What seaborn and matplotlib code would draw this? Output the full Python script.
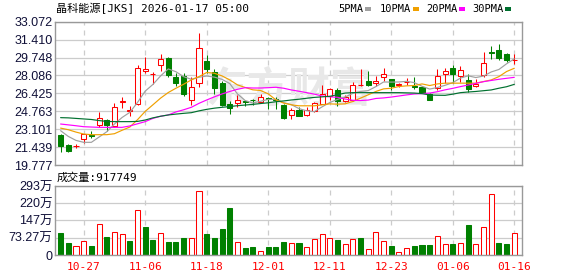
import numpy as np
import pandas as pd
import matplotlib
matplotlib.use("Agg")
import matplotlib.pyplot as plt
from matplotlib.patches import Rectangle
import seaborn as sns

# ---------------- data ----------------
dates = ["10-22", "10-23", "10-24", "10-27", "10-28", "10-29", "10-30", "10-31",
         "11-03", "11-04", "11-05", "11-06", "11-07", "11-10", "11-11", "11-12",
         "11-13", "11-14", "11-17", "11-18", "11-19", "11-20", "11-21", "11-24",
         "11-25", "11-26", "11-28", "12-01", "12-02", "12-03", "12-04", "12-05",
         "12-08", "12-09", "12-10", "12-11", "12-12", "12-15", "12-16", "12-17",
         "12-18", "12-19", "12-22", "12-23", "12-24", "12-26", "12-29", "12-30",
         "12-31", "01-02", "01-05", "01-06", "01-07", "01-08", "01-09", "01-12",
         "01-13", "01-14", "01-15", "01-16"]

opens = [22.59, 21.63, 21.53, 22.19, 22.56, 23.48, 23.97, 23.42, 25.65, 24.82,
         25.42, 28.54, 28.20, 29.03, 29.71, 27.92, 28.05, 25.79, 27.40, 29.43,
         28.38, 27.37, 25.42, 25.52, 25.70, 25.85, 25.58, 25.97, 25.90, 25.36,
         24.37, 24.84, 24.37, 24.81, 25.42, 26.19, 26.75, 25.76, 25.82, 27.16,
         27.58, 27.43, 27.92, 27.74, 27.20, 27.46, 27.15, 27.00, 26.32, 26.90,
         28.20, 28.78, 28.08, 27.67, 27.09, 28.11, 30.22, 30.45, 30.08, 29.50]
highs = [22.65, 21.75, 21.72, 22.65, 22.93, 24.71, 24.00, 25.52, 26.07, 25.27,
         29.06, 29.80, 28.38, 30.11, 29.83, 28.29, 28.35, 27.92, 31.99, 30.02,
         28.66, 27.61, 25.70, 26.26, 25.82, 25.89, 26.38, 26.13, 26.06, 25.42,
         25.05, 25.14, 25.14, 25.64, 27.18, 26.93, 26.90, 26.26, 27.49, 28.66,
         28.51, 28.05, 28.75, 27.74, 27.43, 27.86, 27.92, 27.12, 26.44, 28.66,
         28.75, 29.03, 28.97, 28.23, 27.74, 30.24, 30.82, 31.01, 30.20, 30.11]
lows = [20.95, 20.95, 21.32, 21.85, 22.31, 23.33, 22.89, 23.30, 25.05, 24.34,
        25.36, 28.35, 27.30, 28.54, 27.92, 27.12, 26.22, 25.36, 26.97, 28.29,
        26.41, 25.27, 24.53, 25.14, 25.27, 25.36, 25.52, 24.96, 24.95, 24.07,
        24.07, 24.28, 24.28, 24.71, 25.42, 25.82, 25.27, 25.64, 25.76, 27.12,
        27.12, 27.09, 27.55, 26.69, 27.03, 27.18, 26.87, 26.44, 25.82, 26.69,
        27.37, 27.43, 27.49, 26.56, 27.06, 27.92, 29.59, 29.56, 29.34, 29.12]
closes = [21.51, 21.04, 21.56, 22.65, 22.50, 24.13, 23.45, 25.15, 25.70, 24.87,
          28.75, 28.69, 28.25, 29.65, 28.11, 27.43, 26.41, 27.06, 30.60, 28.66,
          26.93, 25.33, 25.11, 25.82, 25.60, 25.80, 26.13, 25.93, 25.85, 24.13,
          24.84, 24.28, 24.90, 25.52, 26.32, 26.81, 25.73, 26.07, 27.18, 27.20,
          27.24, 27.55, 28.23, 27.12, 27.28, 27.52, 26.97, 26.50, 25.82, 28.05,
          28.51, 28.23, 28.60, 26.84, 27.27, 29.22, 30.14, 29.74, 29.49, 29.56]

# volume in 万 shares
volumes = [94.8, 51.0, 36.8, 59.4, 38.2, 131.6, 76.4, 97.6, 89.0, 60.8,
           189.6, 118.9, 65.0, 93.4, 56.6, 56.6, 73.6, 70.8, 270.0, 90.6,
           73.6, 111.8, 199.5, 55.2, 31.1, 34.0, 17.0, 35.4, 35.4, 56.6,
           51.0, 52.4, 34.0, 66.5, 89.0, 70.8, 65.0, 46.7, 66.5, 72.2,
           25.5, 97.6, 59.4, 38.2, 11.3, 28.3, 38.2, 42.5, 42.5, 79.2,
           46.7, 46.7, 51.0, 127.4, 46.7, 118.9, 257.5, 51.0, 46.7, 91.77]
vol_up = [0, 0, 1, 1, 0, 1, 0, 1, 1, 0, 1, 0, 0, 1, 0, 0, 0, 1, 1, 0,
          0, 0, 0, 1, 0, 0, 1, 0, 0, 0, 1, 0, 1, 1, 1, 1, 0, 1, 1, 0,
          1, 1, 1, 0, 1, 1, 0, 0, 0, 1, 1, 0, 1, 0, 1, 1, 1, 0, 0, 1]

ma5 = [22.96, 22.43, 22.06, 21.88, 21.88, 22.37, 22.86, 23.58, 24.19, 24.66,
       25.58, 26.63, 27.25, 28.04, 28.69, 28.43, 27.97, 27.73, 27.92, 28.03,
       27.93, 27.72, 27.33, 26.37, 25.76, 25.53, 25.69, 25.86, 25.86, 25.57,
       25.38, 25.01, 24.80, 24.73, 25.17, 25.57, 25.86, 26.09, 26.42, 26.60,
       26.68, 27.05, 27.48, 27.47, 27.48, 27.54, 27.42, 27.08, 26.82, 26.97,
       27.17, 27.42, 27.84, 28.05, 27.89, 28.03, 28.41, 28.64, 29.17, 29.63]
ma10 = [23.20, 23.05, 22.83, 22.65, 22.59, 22.59, 22.59, 22.68, 23.00, 23.30,
        23.98, 24.75, 25.36, 25.98, 26.50, 26.90, 27.27, 27.67, 27.98, 28.36,
        28.29, 28.04, 27.67, 27.21, 26.97, 26.75, 26.69, 26.38, 25.82, 25.52,
        25.36, 25.27, 25.27, 25.27, 25.36, 25.45, 25.42, 25.45, 25.67, 25.98,
        26.29, 26.60, 26.84, 26.90, 27.06, 27.12, 27.15, 27.30, 27.15, 27.30,
        27.37, 27.37, 27.37, 27.37, 27.37, 27.52, 27.67, 27.98, 28.45, 28.75]
ma20 = [23.58, 23.50, 23.42, 23.33, 23.30, 23.27, 23.27, 23.27, 23.27, 23.40,
        23.60, 23.80, 24.10, 24.30, 24.42, 24.70, 24.90, 25.13, 25.50, 25.81,
        26.10, 26.37, 26.60, 26.80, 26.95, 26.92, 26.92, 26.95, 26.99, 26.90,
        26.74, 26.62, 26.49, 26.35, 26.18, 26.10, 26.06, 25.90, 25.78, 25.76,
        25.80, 25.95, 26.00, 26.08, 26.18, 26.28, 26.37, 26.40, 26.45, 26.58,
        26.75, 26.89, 27.05, 27.20, 27.35, 27.51, 27.62, 27.73, 27.82, 27.91]
ma30 = [24.17, 24.15, 24.10, 24.05, 24.00, 23.90, 23.82, 23.80, 23.80, 23.80,
        23.82, 23.95, 24.15, 24.30, 24.42, 24.50, 24.57, 24.63, 24.80, 24.94,
        25.05, 25.13, 25.20, 25.28, 25.34, 25.40, 25.48, 25.55, 25.65, 25.72,
        25.81, 25.88, 25.97, 26.05, 26.10, 26.15, 26.30, 26.45, 26.49, 26.49,
        26.49, 26.49, 26.49, 26.49, 26.49, 26.47, 26.45, 26.40, 26.27, 26.25,
        26.24, 26.35, 26.49, 26.55, 26.60, 26.67, 26.74, 26.90, 27.04, 27.26]

ma_labels = ["5PMA", "10PMA", "20PMA", "30PMA"]
ma_colors = ["#a0a0a0", "#f0a000", "#ff00ff", "#00702f"]

price_ticks = [19.777, 21.439, 23.101, 24.763, 26.425, 28.086, 29.748, 31.410, 33.072]
price_labels = ["19.777", "21.439", "23.101", "24.763", "26.425", "28.086",
                "29.748", "31.410", "33.072"]
vol_ticks = [0, 73.27, 147, 220, 293]
vol_labels = ["0", "73.27万", "147万", "220万", "293万"]
date_ticks = ["10-27", "11-06", "11-18", "12-01", "12-11", "12-23", "01-06", "01-16"]

title_text = "晶科能源[JKS] 2026-01-17 05:00"
vol_title = "成交量:917749"
watermark = "东方财富"

# ---------------- style ----------------
sns.set_style("white")
plt.rcParams["font.family"] = ["DejaVu Sans Mono", "Noto Sans CJK SC"]

RED = "#ff0000"
GREEN = "#008000"
GRID = "#cccccc"
SPINE = "#999999"
LABEL = "#101038"

W, H = 578, 276
fig = plt.figure(figsize=(W / 100, H / 100), dpi=100)
fig.patch.set_facecolor("white")

L, R = 55.3, 522.3
ax = fig.add_axes([L / W, 1 - 165.0 / H, (R - L) / W, (165.0 - 21.7) / H])
axv = fig.add_axes([L / W, 1 - 255.0 / H, (R - L) / W, (255.0 - 186.0) / H])

x = np.arange(len(dates))
df = pd.DataFrame({"x": x, "open": opens, "high": highs, "low": lows,
                   "close": closes, "vol": volumes, "up": vol_up,
                   "ma5": ma5, "ma10": ma10, "ma20": ma20, "ma30": ma30})
tick_pos = [dates.index(d) for d in date_ticks]
xlim = (-0.69, len(dates) - 1 + 1.04)

bw = 0.66
lw = 0.75

# ---------------- candles ----------------
up = df["close"] >= df["open"]
upd = df[up]
dn = df[~up]
body_up = np.maximum(upd["close"] - upd["open"], 0.03)
ax.bar(upd["x"], body_up, bottom=upd["open"], width=bw, facecolor="white",
       edgecolor=RED, linewidth=lw, zorder=3)
ax.vlines(upd["x"], upd["open"] + body_up, upd["high"], color=RED, linewidth=lw, zorder=3)
ax.vlines(upd["x"], upd["low"], upd["open"], color=RED, linewidth=lw, zorder=3)
body_dn = np.maximum(dn["open"] - dn["close"], 0.03)
ax.vlines(dn["x"], dn["low"], dn["high"], color=GREEN, linewidth=lw, zorder=3)
ax.bar(dn["x"], body_dn, bottom=dn["close"], width=bw, facecolor=GREEN,
       edgecolor=GREEN, linewidth=lw, zorder=3)

# ---------------- moving averages ----------------
for col, c in zip(["ma5", "ma10", "ma20", "ma30"], ma_colors):
    sns.lineplot(data=df, x="x", y=col, ax=ax, color=c, linewidth=0.85, zorder=4)

ax.text(0.5, 0.53, watermark, transform=ax.transAxes, ha="center", va="center",
        fontsize=30, color="#e8e8e8", fontweight="bold", zorder=0.6,
        family=["Noto Sans CJK SC"])

ax.set_xlim(*xlim)
ax.set_ylim(price_ticks[0], price_ticks[-1])
ax.set_yticks(price_ticks)
ax.set_yticklabels(price_labels, family=["Liberation Sans", "Noto Sans CJK SC"],
                   fontsize=9, color=LABEL)
ax.set_xticks(tick_pos)
ax.set_xticklabels([])
ax.set_xlabel("")
ax.set_ylabel("")
ax.tick_params(axis="both", length=0, pad=2)
ax.grid(axis="y", color=GRID, linewidth=0.9, linestyle="-")
ax.grid(axis="x", color=GRID, linewidth=0.9, linestyle=(0, (4, 4)))
ax.set_axisbelow(True)
for s in ax.spines.values():
    s.set_color(SPINE)
    s.set_linewidth(1.0)
    s.set_zorder(5)

# ---------------- volume ----------------
vu = df[df["up"] == 1]
vd = df[df["up"] == 0]
axv.bar(vu["x"], vu["vol"], width=bw, facecolor="white", edgecolor=RED,
        linewidth=lw, zorder=3)
axv.bar(vd["x"], vd["vol"], width=bw, facecolor=GREEN, edgecolor=GREEN,
        linewidth=lw, zorder=3)
axv.set_xlim(*xlim)
axv.set_ylim(vol_ticks[0], vol_ticks[-1])
axv.set_yticks(vol_ticks)
axv.set_yticklabels(vol_labels, family=["Liberation Sans", "Noto Sans CJK SC"],
                    fontsize=9, color=LABEL)
axv.set_xticks(tick_pos)
axv.set_xticklabels(date_ticks, color=RED, fontsize=8,
                    family=["DejaVu Sans Mono"])
axv.tick_params(axis="y", length=0, pad=2)
axv.tick_params(axis="x", length=0, pad=5)
axv.grid(axis="y", color=GRID, linewidth=0.9, linestyle="-")
axv.grid(axis="x", color=GRID, linewidth=0.9, linestyle=(0, (4, 4)))
axv.set_axisbelow(True)
axv.set_xlabel("")
axv.set_ylabel("")
for s in axv.spines.values():
    s.set_color(SPINE)
    s.set_linewidth(1.0)
    s.set_zorder(5)

# ---------------- header texts ----------------
fig.text(56 / W, 1 - 8.5 / H, title_text, ha="left", va="center", fontsize=8,
         color="#000000", family=["DejaVu Sans Mono", "Noto Sans CJK SC"])
fig.text(57 / W, 1 - 177.5 / H, vol_title, ha="left", va="center", fontsize=8,
         color="#000000", family=["DejaVu Sans Mono", "Noto Sans CJK SC"])

leg_text_x = [338, 380, 426, 472]
for lbl, c, tx in zip(ma_labels, ma_colors, leg_text_x):
    t = fig.text(tx / W, 1 - 8.5 / H, lbl, ha="left", va="center", fontsize=7.5,
                 color="#000000", family=["DejaVu Sans Mono"])
    rx = tx + len(lbl) * 6.27 + 2
    fig.patches.append(Rectangle((rx / W, 1 - 10.5 / H), 6 / W, 3.2 / H,
                                 transform=fig.transFigure, facecolor=c,
                                 edgecolor="none"))

fig.savefig("out.png", dpi=100)
